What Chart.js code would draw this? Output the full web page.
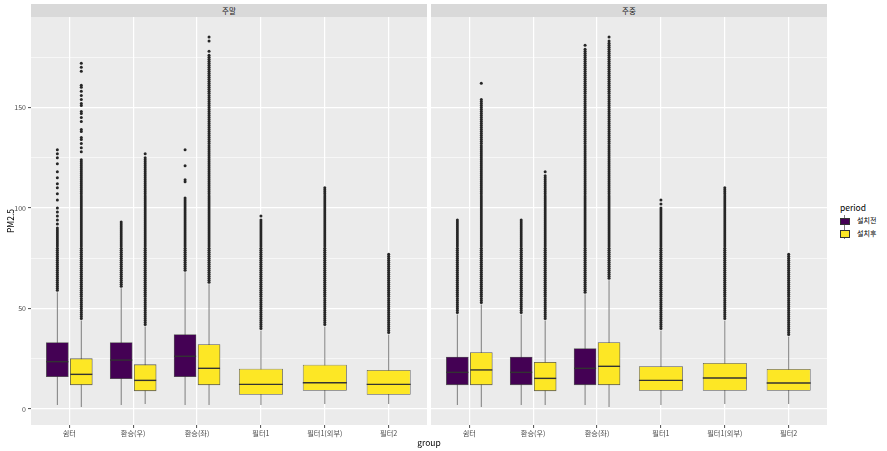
<!DOCTYPE html>
<html>
<head>
<meta charset="utf-8">
<script src="https://cdn.jsdelivr.net/npm/chart.js@4.4.0/dist/chart.umd.min.js"></script>
<style>
body { margin: 0; background: #fff; font-family: "Noto Sans CJK KR", sans-serif; }
#wrap { position: relative; width: 887px; height: 451px; overflow: hidden; }
canvas { position: absolute; top: 17px; }
.strip { position: absolute; top: 4px; height: 13px; width: 396px; background: #d9d9d9; color: #1a1a1a;
  font-size: 7.5px; line-height: 13px; text-align: center; }
.txt { position: absolute; white-space: nowrap; color: #000; }
.key { position: absolute; left: 840px; width: 9px; height: 12px; }
.key i { position: absolute; left: 4px; top: 0; width: 1px; height: 12px; background: #7d7d7d; }
.key b { position: absolute; left: 0; top: 3px; width: 8px; height: 5.5px; border: 0.5px solid #333; }
</style>
</head>
<body>
<div id="wrap">
  <div class="strip" style="left:31px">주말</div>
  <div class="strip" style="left:431px">주중</div>
  <canvas id="weekend" width="427" height="434" style="left:0"></canvas>
  <canvas id="weekday" width="396" height="434" style="left:431px"></canvas>
  <div class="txt" style="left:-6px;top:215px;font-size:8.5px;line-height:12px;transform:rotate(-90deg);width:32px;text-align:center">PM2.5</div>
  <div class="txt" style="left:409px;top:436px;font-size:8.5px;line-height:12px;width:40px;text-align:center">group</div>
  <div class="txt" style="left:840px;top:201px;font-size:8.5px;line-height:12px">period</div>
  <div class="key" style="top:214.5px"><i></i><b style="background:#440154"></b></div>
  <div class="key" style="top:227px"><i></i><b style="background:#fde725"></b></div>
  <div class="txt" style="left:857px;top:215px;font-size:7px;line-height:11px">설치전</div>
  <div class="txt" style="left:857px;top:227.5px;font-size:7px;line-height:11px">설치후</div>
</div>
<script>
const groups = ["쉼터", "환승(우)", "환승(좌)", "필터1", "필터1(외부)", "필터2"];
const facets = ["주말", "주중"];
const periods = ["설치전", "설치후"];
const periodColors = ["#440154", "#fde725"];

// [min, q1, median, q3, upper whisker] per group, null = no data
const weekendBefore = [[2, 16, 23.5, 33, 58], [2, 15, 24.3, 33, 60], [2, 16, 26.2, 37, 68], null, null, null];
const weekendAfter = [[1, 12, 17.2, 25, 44], [2.5, 9, 14.2, 22, 41], [2, 12, 20.2, 32, 62], [2, 7, 12.2, 20, 39], [2.5, 9, 13, 22, 41], [2.5, 7, 12.2, 19.4, 37]];
const weekdayBefore = [[2, 12, 18.2, 25.8, 47], [2, 12, 18.2, 25.8, 47], [2, 12, 20.2, 30, 57], null, null, null];
const weekdayAfter = [[1, 12, 19.4, 28, 52], [2, 9, 15.2, 23.2, 44], [1, 12, 21.2, 33, 64], [2, 9, 14.2, 21.2, 39], [2.5, 9, 15.4, 22.9, 44], [2.5, 9, 12.9, 19.9, 36]];

// outlier values per group
const weekendBeforeOut = [
  [59,60,61,62,63,64,65,66,67,68,69,70,71,72,73,74,75,76,77,78,79,80,81,82,83,84,85,86,87,88,89,90,
   92,94,96,98,100,104,107,110,112,115,118,122,125,127,129],
  [61,62,63,64,65,66,67,68,69,70,71,72,73,74,75,76,77,78,79,80,81,82,83,84,85,86,87,88,89,90,91,92,93],
  [69,70,71,72,73,74,75,76,77,78,79,80,81,82,83,84,85,86,87,88,89,90,91,92,93,94,95,96,97,98,99,
   100,101,102,103,104,105,113,114,121,129],
  [], [], []
];
const weekendAfterOut = [
  [45,46,47,48,49,50,51,52,53,54,55,56,57,58,59,60,61,62,63,64,65,66,67,68,69,70,71,72,73,74,75,76,77,78,79,
   80,81,82,83,84,85,86,87,88,89,90,91,92,93,94,95,96,97,98,99,100,101,102,103,104,105,106,107,108,109,
   110,111,112,113,114,115,116,117,118,119,120,121,122,123,124,
   128,130,132,134,135,138,139,143,145,147,148,151,152,154,156,158,160,161,168,170,172],
  [42,43,44,45,46,47,48,49,50,51,52,53,54,55,56,57,58,59,60,61,62,63,64,65,66,67,68,69,70,71,72,73,74,75,76,77,78,79,
   80,81,82,83,84,85,86,87,88,89,90,91,92,93,94,95,96,97,98,99,100,101,102,103,104,105,106,107,108,109,
   110,111,112,113,114,115,116,117,118,119,120,121,122,123,124,125,127],
  [63,64,65,66,67,68,69,70,71,72,73,74,75,76,77,78,79,80,81,82,83,84,85,86,87,88,89,90,91,92,93,94,95,96,97,98,99,
   100,101,102,103,104,105,106,107,108,109,110,111,112,113,114,115,116,117,118,119,120,121,122,123,124,125,126,127,128,129,
   130,131,132,133,134,135,136,137,138,139,140,141,142,143,144,145,146,147,148,149,150,151,152,153,154,155,156,157,158,159,
   160,161,162,163,164,165,166,167,168,169,170,171,172,173,174,175,176,178,183,185],
  [40,41,42,43,44,45,46,47,48,49,50,51,52,53,54,55,56,57,58,59,60,61,62,63,64,65,66,67,68,69,
   70,71,72,73,74,75,76,77,78,79,80,81,82,83,84,85,86,87,88,89,90,91,92,93,94,96],
  [42,43,44,45,46,47,48,49,50,51,52,53,54,55,56,57,58,59,60,61,62,63,64,65,66,67,68,69,70,71,72,73,74,75,76,77,78,79,
   80,81,82,83,84,85,86,87,88,89,90,91,92,93,94,95,96,97,98,99,100,101,102,103,104,105,106,107,108,109,110],
  [38,39,40,41,42,43,44,45,46,47,48,49,50,51,52,53,54,55,56,57,58,59,60,61,62,63,64,65,66,67,68,69,
   70,71,72,73,74,75,76,77]
];
const weekdayBeforeOut = [
  [48,49,50,51,52,53,54,55,56,57,58,59,60,61,62,63,64,65,66,67,68,69,70,71,72,73,74,75,76,77,78,79,
   80,81,82,83,84,85,86,87,88,89,90,91,92,93,94],
  [48,49,50,51,52,53,54,55,56,57,58,59,60,61,62,63,64,65,66,67,68,69,70,71,72,73,74,75,76,77,78,79,
   80,81,82,83,84,85,86,87,88,89,90,91,92,93,94],
  [58,59,60,61,62,63,64,65,66,67,68,69,70,71,72,73,74,75,76,77,78,79,80,81,82,83,84,85,86,87,88,89,90,91,92,93,94,95,96,97,98,99,
   100,101,102,103,104,105,106,107,108,109,110,111,112,113,114,115,116,117,118,119,120,121,122,123,124,125,126,127,128,129,
   130,131,132,133,134,135,136,137,138,139,140,141,142,143,144,145,146,147,148,149,150,151,152,153,154,155,156,157,158,159,
   160,161,162,163,164,165,166,167,168,169,170,171,172,173,174,175,176,177,178,179,181],
  [], [], []
];
const weekdayAfterOut = [
  [53,54,55,56,57,58,59,60,61,62,63,64,65,66,67,68,69,70,71,72,73,74,75,76,77,78,79,80,81,82,83,84,85,86,87,88,89,90,91,92,93,94,95,96,97,98,99,
   100,101,102,103,104,105,106,107,108,109,110,111,112,113,114,115,116,117,118,119,120,121,122,123,124,125,126,127,128,129,
   130,131,132,133,134,135,136,137,138,139,140,141,142,143,144,145,146,147,148,149,150,151,152,153,154,162],
  [45,46,47,48,49,50,51,52,53,54,55,56,57,58,59,60,61,62,63,64,65,66,67,68,69,70,71,72,73,74,75,76,77,78,79,
   80,81,82,83,84,85,86,87,88,89,90,91,92,93,94,95,96,97,98,99,100,101,102,103,104,105,106,107,108,109,
   110,111,112,113,114,115,116,118],
  [65,66,67,68,69,70,71,72,73,74,75,76,77,78,79,80,81,82,83,84,85,86,87,88,89,90,91,92,93,94,95,96,97,98,99,
   100,101,102,103,104,105,106,107,108,109,110,111,112,113,114,115,116,117,118,119,120,121,122,123,124,125,126,127,128,129,
   130,131,132,133,134,135,136,137,138,139,140,141,142,143,144,145,146,147,148,149,150,151,152,153,154,155,156,157,158,159,
   160,161,162,163,164,165,166,167,168,169,170,171,172,173,174,175,176,177,178,179,180,181,182,183,185],
  [40,41,42,43,44,45,46,47,48,49,50,51,52,53,54,55,56,57,58,59,60,61,62,63,64,65,66,67,68,69,
   70,71,72,73,74,75,76,77,78,79,80,81,82,83,84,85,86,87,88,89,90,91,92,93,94,95,96,97,98,99,100,102,104],
  [45,46,47,48,49,50,51,52,53,54,55,56,57,58,59,60,61,62,63,64,65,66,67,68,69,70,71,72,73,74,75,76,77,78,79,
   80,81,82,83,84,85,86,87,88,89,90,91,92,93,94,95,96,97,98,99,100,101,102,103,104,105,106,107,108,109,110],
  [37,38,39,40,41,42,43,44,45,46,47,48,49,50,51,52,53,54,55,56,57,58,59,60,61,62,63,64,65,66,67,68,69,
   70,71,72,73,74,75,76,77]
];

const fontFamily = '"Noto Sans CJK KR", sans-serif';
const dodge = 0.1875;

// grey panel background like ggplot
const panelBg = {
  id: "panelBg",
  beforeDraw(chart) {
    const { ctx, chartArea: a } = chart;
    ctx.save();
    ctx.fillStyle = "#ebebeb";
    ctx.fillRect(a.left, a.top, a.width, a.height);
    ctx.restore();
  }
};

function panelDatasets(before, after, beforeOut, afterOut) {
  const whisk = [], boxPurple = [], boxYellowPair = [], boxYellowSingle = [];
  const medPair = [], medSingle = [], dots = [];
  groups.forEach((g, i) => {
    const paired = before[i] && after[i];
    [[before[i], beforeOut[i], -dodge], [after[i], afterOut[i], dodge]].forEach(([s, out, shift], p) => {
      if (!s) return;
      const x = paired ? i + shift : i;
      whisk.push({ x, y: [s[0], s[4]] });
      const box = { x, y: [s[1], s[3]] };
      if (p === 0) boxPurple.push(box);
      else if (paired) boxYellowPair.push(box);
      else boxYellowSingle.push(box);
      (paired ? medPair : medSingle).push({ x, y: s[2] });
      out.forEach(v => dots.push({ x, y: v }));
    });
  });
  const boxStyle = { borderColor: "rgba(51,51,51,0.8)", borderWidth: 0.8, borderSkipped: false, grouped: false, categoryPercentage: 1, order: 4 };
  return [
    { type: "bar", data: whisk, backgroundColor: "#7d7d7d", grouped: false, maxBarThickness: 1, order: 5 },
    { type: "bar", label: periods[0], data: boxPurple, backgroundColor: periodColors[0], barPercentage: 1, maxBarThickness: 22, ...boxStyle },
    { type: "bar", label: periods[1], data: boxYellowPair, backgroundColor: periodColors[1], barPercentage: 1, maxBarThickness: 22, ...boxStyle },
    { type: "bar", label: periods[1], data: boxYellowSingle, backgroundColor: periodColors[1], barPercentage: 2, maxBarThickness: 44, ...boxStyle },
    { type: "scatter", data: medPair, pointStyle: "line", pointRadius: 11, pointBorderWidth: 1.4, pointBorderColor: "#333", order: 3 },
    { type: "scatter", data: medSingle, pointStyle: "line", pointRadius: 22, pointBorderWidth: 1.4, pointBorderColor: "#333", order: 3 },
    { type: "scatter", data: dots, pointRadius: 1.5, pointBackgroundColor: "#262626", pointBorderWidth: 0, order: 2 }
  ];
}

function makePanel(id, datasets, showY) {
  return new Chart(document.getElementById(id), {
    type: "bar",
    data: { datasets },
    options: {
      animation: false,
      responsive: false,
      devicePixelRatio: 1,
      layout: { padding: 0, autoPadding: false },
      plugins: { legend: { display: false }, tooltip: { enabled: false } },
      scales: {
        x: {
          type: "linear", min: -0.6, max: 5.6, offset: false,
          ticks: {
            stepSize: 1, includeBounds: false, autoSkip: false, maxRotation: 0, padding: 1,
            color: "#4d4d4d", font: { size: 7.2, family: fontFamily },
            callback: v => groups[v] ?? ""
          },
          grid: { offset: false, color: "#fff", lineWidth: 1.2, tickLength: 3, tickColor: "#4d4d4d", tickWidth: 1 },
          border: { display: false },
          afterFit: s => { s.height = 26; s.paddingLeft = 0; s.paddingRight = 0; }
        },
        y: {
          min: -8, max: 195,
          ticks: {
            display: showY, stepSize: 25, includeBounds: false, padding: 2,
            color: "#4d4d4d", font: { size: 7, family: fontFamily },
            callback: v => (v % 50 === 0 ? String(v) : "")
          },
          grid: {
            color: "#fff",
            lineWidth: c => (c.tick && c.tick.value % 50 === 0 ? 1.2 : 0.6),
            drawTicks: showY, tickLength: 3, tickWidth: 1,
            tickColor: c => (c.tick && c.tick.value % 50 === 0 ? "#4d4d4d" : "rgba(0,0,0,0)")
          },
          border: { display: false },
          afterFit: s => { s.width = showY ? 31 : 0; s.paddingTop = 0; s.paddingBottom = 0; }
        }
      }
    },
    plugins: [panelBg]
  });
}

makePanel("weekend", panelDatasets(weekendBefore, weekendAfter, weekendBeforeOut, weekendAfterOut), true);
makePanel("weekday", panelDatasets(weekdayBefore, weekdayAfter, weekdayBeforeOut, weekdayAfterOut), false);
</script>
</body>
</html>
